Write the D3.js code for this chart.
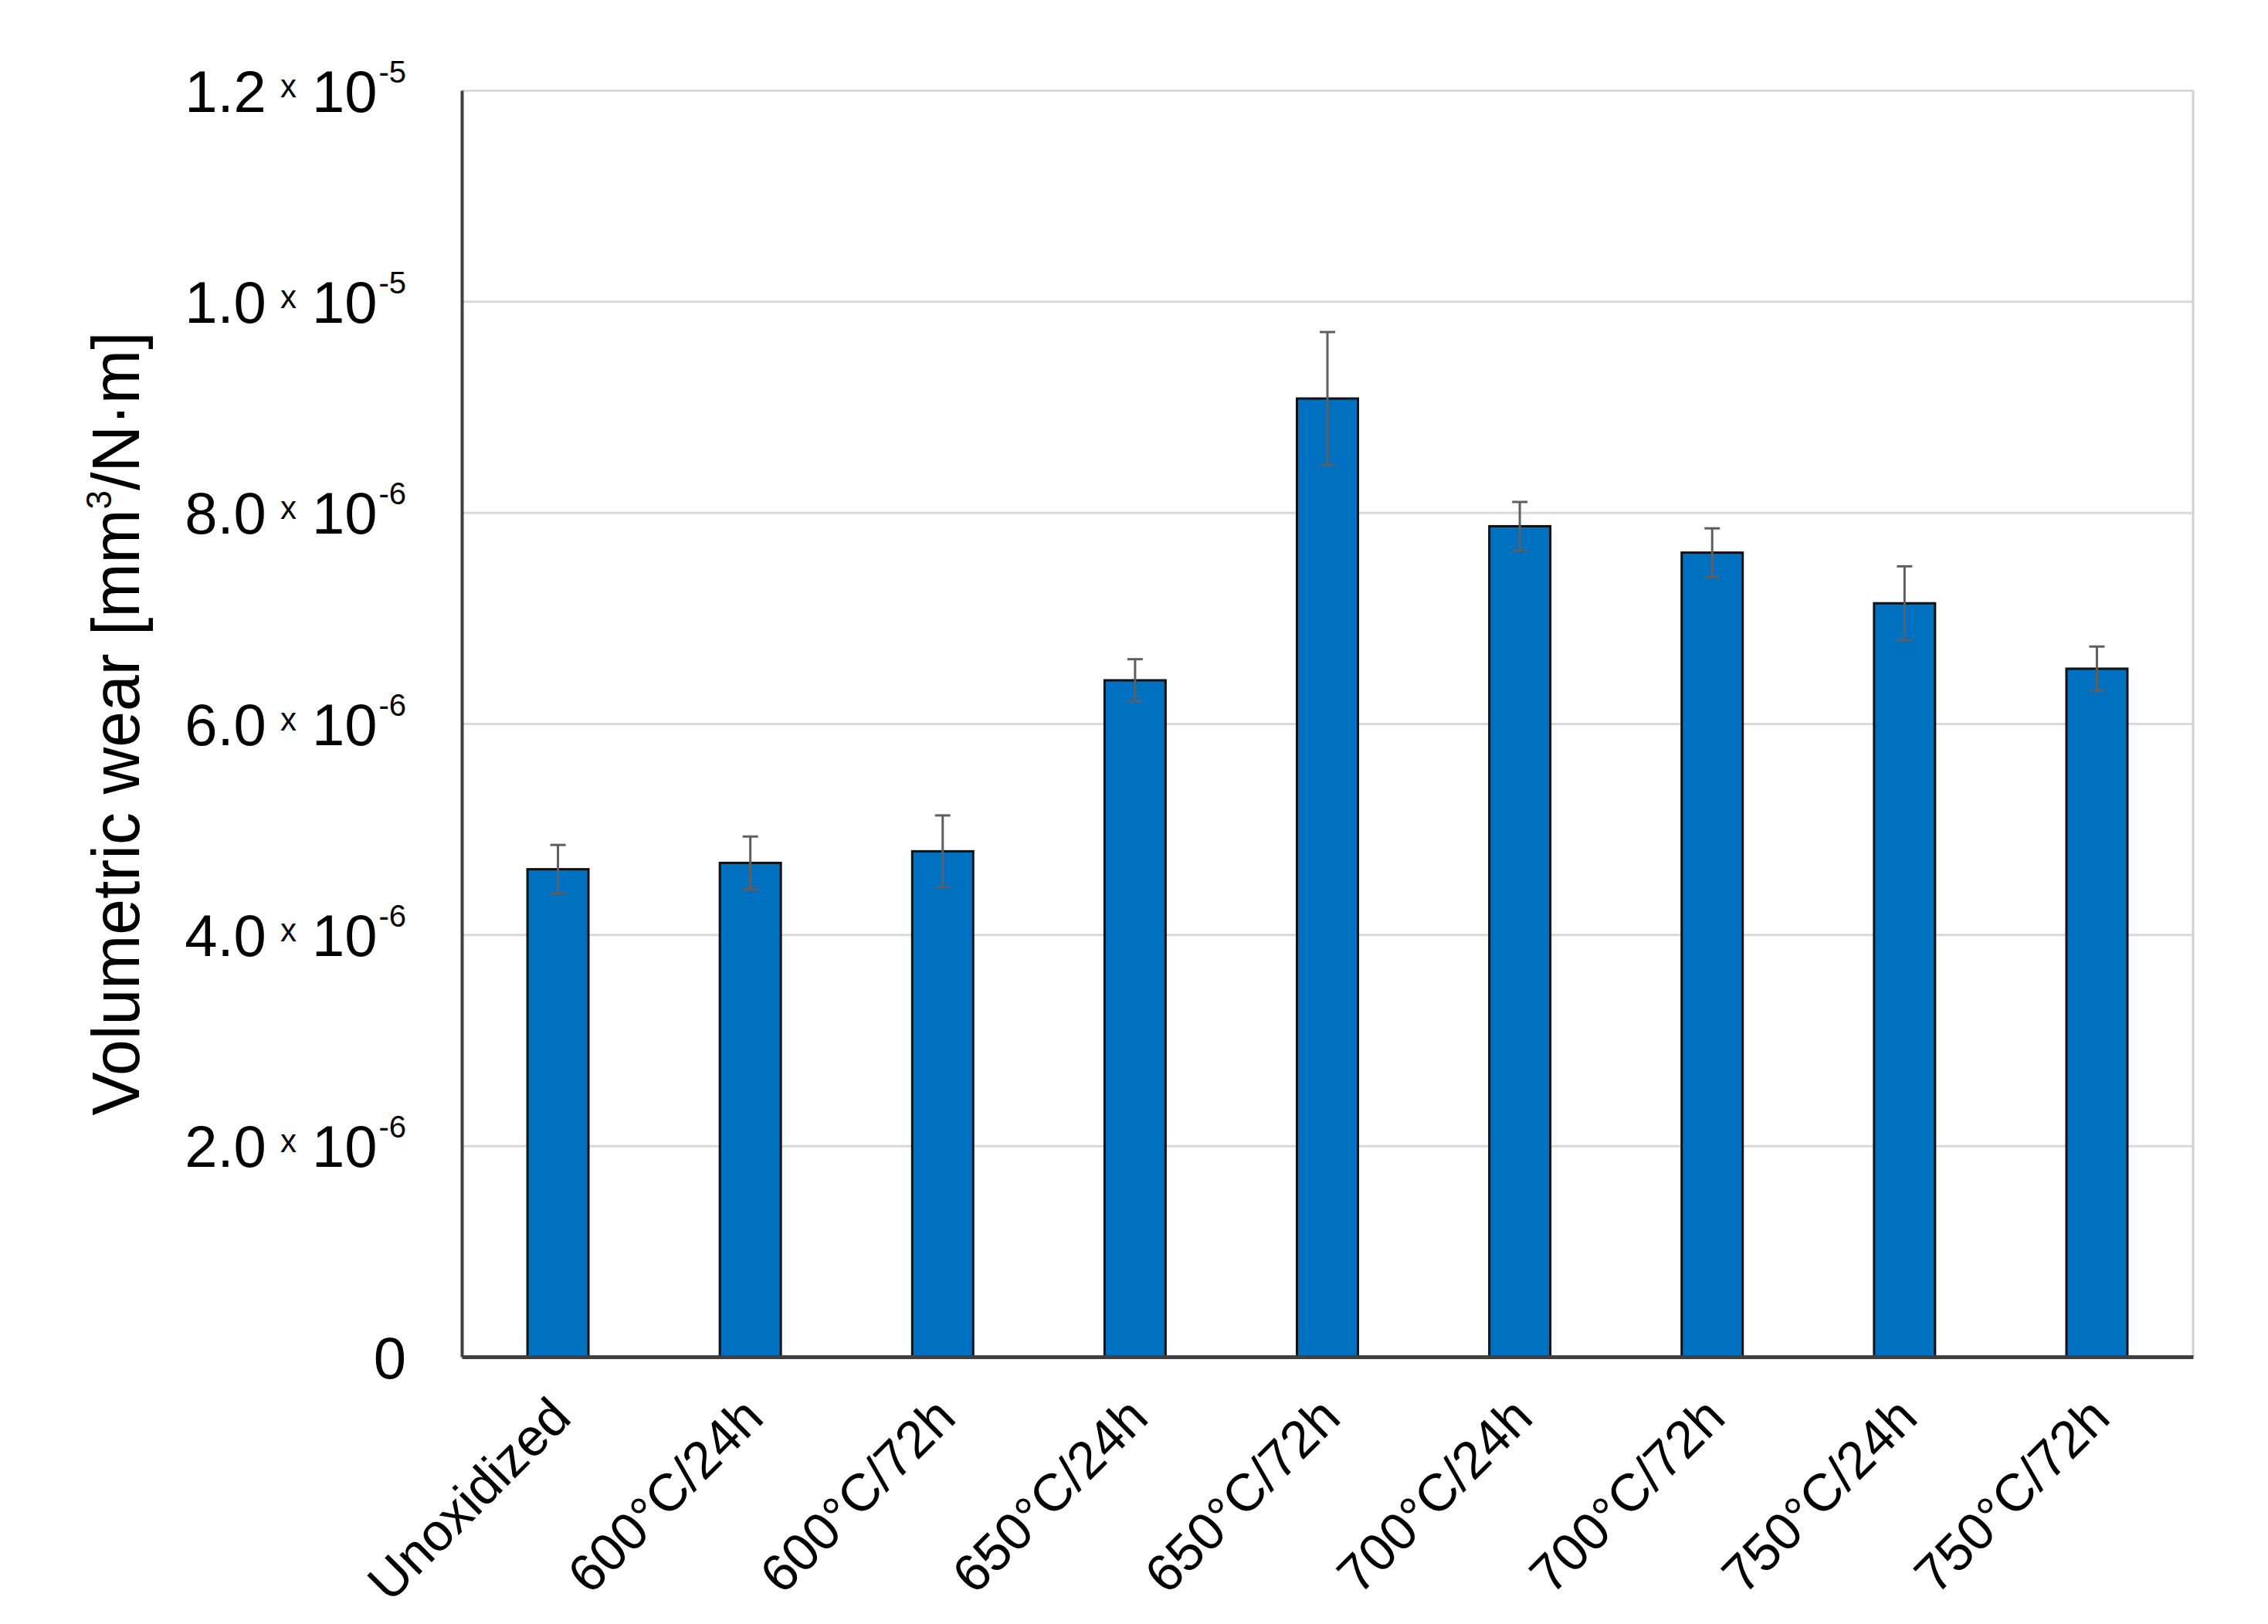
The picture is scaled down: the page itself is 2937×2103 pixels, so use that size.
<!DOCTYPE html>
<html>
<head>
<meta charset="utf-8">
<script src="https://cdn.jsdelivr.net/npm/d3@7"></script>
<style>
  body { margin: 0; background: #fff; }
  text { font-family: "Liberation Sans", Arial, sans-serif; fill: #000; }
</style>
</head>
<body>
<div id="chart"></div>
<script>
// Data (wear in 10^-6 mm^3/N·m)
var categories = ["Unoxidized", "600°C/24h", "600°C/72h", "650°C/24h", "650°C/72h",
                  "700°C/24h", "700°C/72h", "750°C/24h", "750°C/72h"];
var wear = [4.62, 4.68, 4.79, 6.41, 9.08, 7.87, 7.62, 7.14, 6.52];
var wearErr = [0.23, 0.25, 0.34, 0.20, 0.63, 0.23, 0.23, 0.35, 0.21];
var yTicks = [0, 2, 4, 6, 8, 10, 12];

var svgWidth = 2937;
var svgHeight = 2103;

var chartMargin = { top: 117, right: 97, bottom: 346, left: 598 };

var width = svgWidth - chartMargin.left - chartMargin.right;
var height = svgHeight - chartMargin.top - chartMargin.bottom;

var svg = d3.select("#chart")
  .append("svg")
  .attr("width", svgWidth)
  .attr("height", svgHeight);

var chartGroup = svg.append("g")
  .attr("transform", `translate(${chartMargin.left}, ${chartMargin.top})`);

var xScale = d3.scaleBand()
  .domain(categories)
  .range([0, width])
  .paddingInner(0.683)
  .paddingOuter(0.3415);

var yScale = d3.scaleLinear()
  .domain([0, 12])
  .range([height, 0]);

// gridlines
var grid = chartGroup.append("g")
  .call(d3.axisLeft(yScale).tickValues(yTicks.slice(1)).tickSize(-width).tickFormat(""));
grid.select(".domain").remove();
grid.selectAll("line").attr("stroke", "#d9d9d9").attr("stroke-width", 3);

// right frame
chartGroup.append("line")
  .attr("x1", width).attr("x2", width)
  .attr("y1", 0).attr("y2", height)
  .attr("stroke", "#d0d0d0").attr("stroke-width", 3);

// bars
chartGroup.selectAll(".bar")
  .data(wear)
  .enter()
  .append("rect")
  .attr("class", "bar")
  .attr("x", (d, i) => xScale(categories[i]))
  .attr("width", xScale.bandwidth())
  .attr("y", d => yScale(d))
  .attr("height", d => height - yScale(d))
  .attr("fill", "#0070c0")
  .attr("stroke", "#111")
  .attr("stroke-width", 3);

// error bars
var capHalf = 10;
var errGroup = chartGroup.append("g")
  .attr("stroke", "#5f5f5f")
  .attr("stroke-width", 3);

wear.forEach(function(d, i) {
  var cx = xScale(categories[i]) + xScale.bandwidth() / 2;
  var yTop = yScale(d + wearErr[i]);
  var yBot = yScale(d - wearErr[i]);
  errGroup.append("line").attr("x1", cx).attr("x2", cx).attr("y1", yTop).attr("y2", yBot);
  errGroup.append("line").attr("x1", cx - capHalf).attr("x2", cx + capHalf).attr("y1", yTop).attr("y2", yTop);
  errGroup.append("line").attr("x1", cx - capHalf).attr("x2", cx + capHalf).attr("y1", yBot).attr("y2", yBot);
});

// y axis
var leftAxis = chartGroup.append("g")
  .call(d3.axisLeft(yScale).tickValues(yTicks).tickSize(0).tickPadding(72).tickFormat(""));
leftAxis.select(".domain").attr("stroke", "#404040").attr("stroke-width", 4);

leftAxis.selectAll(".tick text")
  .attr("dy", 27)
  .each(function(d) {
    var t = d3.select(this);
    t.text(null);
    if (d === 0) {
      t.append("tspan").attr("font-size", 76).text("0");
      return;
    }
    var exp = d >= 10 ? -5 : -6;
    var mant = d >= 10 ? d / 10 : d;
    t.append("tspan").attr("font-size", 76).text(mant.toFixed(1));
    t.append("tspan").attr("font-size", 42).attr("dx", 18).attr("dy", -19).text("x");
    t.append("tspan").attr("font-size", 76).attr("dx", 20).attr("dy", 19).text("10");
    t.append("tspan").attr("font-size", 40).attr("dx", 2).attr("dy", -38).text(exp);
  });

// x axis
var bottomAxis = chartGroup.append("g")
  .attr("transform", `translate(0, ${height})`)
  .call(d3.axisBottom(xScale).tickSize(0));
bottomAxis.select(".domain").attr("stroke", "#404040").attr("stroke-width", 5);
bottomAxis.selectAll(".tick text")
  .attr("font-size", 68)
  .attr("x", 0).attr("y", 0).attr("dy", 0)
  .attr("text-anchor", "end")
  .attr("transform", "translate(20, 82) rotate(-45)");

// y axis title
var yTitle = chartGroup.append("text")
  .attr("transform", `translate(${180 - chartMargin.left}, ${height / 2}) rotate(-90)`)
  .attr("text-anchor", "middle")
  .attr("font-size", 88)
  .attr("textLength", 1015)
  .attr("lengthAdjust", "spacingAndGlyphs");
yTitle.append("tspan").text("Volumetric wear [mm");
yTitle.append("tspan").attr("font-size", 46).attr("dy", -36).text("3");
yTitle.append("tspan").attr("dy", 36).text("/N·m]");
</script>
</body>
</html>
